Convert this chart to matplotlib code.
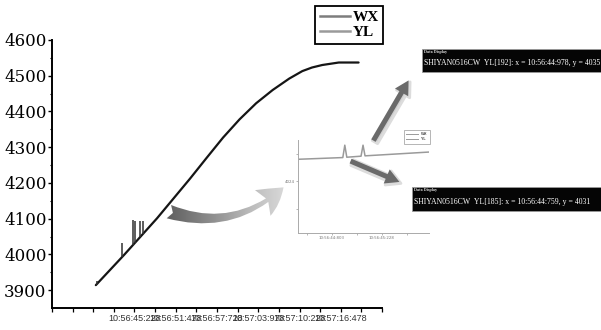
import matplotlib
matplotlib.use('Agg')
import matplotlib.pyplot as plt
import numpy as np
from matplotlib import font_manager
from matplotlib.lines import Line2D
from matplotlib.patches import FancyArrowPatch, Rectangle

W, H = 601, 330

# WX curve, seconds after 10:56:00
wx_time = [39.37, 43.62, 48.64, 53.64, 56.15, 58.65, 61.15, 63.66,
           66.16, 68.67, 70.66, 72.12, 73.67, 76.18, 79.18]
wx_value = [3914, 3998, 4101, 4212, 4270, 4327, 4378, 4423,
            4460, 4492, 4513, 4523, 4530, 4537, 4537]

# YL glitches sticking out of the curve
yl_spike_time = [39.52, 43.40, 44.93, 45.23, 46.13, 46.48]
yl_spike_base = [3914, 3993, 4025, 4031, 4049, 4056]
yl_spike_top = [3926, 4032, 4096, 4094, 4094, 4094]

x_first_tick = 32.728
x_tick_step = 3.125
x_tick_labels = ['', '', '', '', '10:56:45:228', '', '10:56:51:478', '',
                 '10:56:57:728', '', '10:57:03:978', '', '10:57:10:228', '',
                 '10:57:16:478', '', '']
y_ticks = [3900, 4000, 4100, 4200, 4300, 4400, 4500, 4600]

# zoomed view of the first two glitches
inset_time = [44.514, 44.895, 44.912, 44.929, 45.050, 45.067, 45.084, 45.628]
inset_value = [4030.4, 4030.9, 4034.5, 4031.0, 4031.3, 4034.5, 4031.4, 4032.5]
inset_x_ticks = [44.590, 44.803, 45.016, 45.228, 45.440]
inset_x_labels = ['', '10:56:44:803', '', '10:56:45:228', '']
inset_y_ticks = [4016, 4024, 4032]
inset_y_labels = ['', '4024', '']

readouts = [
    'SHIYAN0516CW  YL[192]: x = 10:56:44:978, y = 4035',
    'SHIYAN0516CW  YL[185]: x = 10:56:44:759, y = 4031',
]

names = {f.name for f in font_manager.fontManager.ttflist}
narrow = 'Liberation Sans Narrow' if 'Liberation Sans Narrow' in names else 'Liberation Sans'

fig = plt.figure(figsize=(W / 100, H / 100), dpi=100)
fig.patch.set_facecolor('white')

# main chart
ax = fig.add_axes([52 / W, 1 - 308 / H, 330 / W, 268 / H])
ax.plot(wx_time, wx_value, color='#151515', lw=1.6, solid_capstyle='round')
ax.vlines(yl_spike_time, yl_spike_base, yl_spike_top, color='#303030', lw=1.1)
ax.set_xlim(x_first_tick, x_first_tick + 16 * x_tick_step)
ax.set_ylim(3850, 4600)
ax.set_xticks([x_first_tick + i * x_tick_step for i in range(17)])
ax.set_xticklabels(x_tick_labels, fontsize=6.5, family=narrow, color='#333333')
ax.set_yticks(y_ticks)
ax.set_yticklabels([str(v) for v in y_ticks], fontsize=12, family='DejaVu Serif')
ax.set_yticks([v + 50 for v in y_ticks[:-1]], minor=True)
ax.tick_params(axis='y', which='major', length=3, width=1, pad=1)
ax.tick_params(axis='y', which='minor', length=1.5, width=0.8)
ax.tick_params(axis='x', length=3, width=0.9, pad=1)
for side in ('top', 'right'):
    ax.spines[side].set_visible(False)
for side in ('left', 'bottom'):
    ax.spines[side].set_linewidth(1.4)

handles = [Line2D([], [], color='#7d7d7d', lw=1.8, label='WX'),
           Line2D([], [], color='#9a9a9a', lw=1.8, label='YL')]
leg = ax.legend(handles=handles, loc='upper left',
                bbox_to_anchor=(315 / W, 1 - 6 / H), bbox_transform=fig.transFigure,
                prop={'family': 'Liberation Serif', 'weight': 'bold', 'size': 11},
                handlelength=2.0, handletextpad=0.15, borderpad=0.3,
                borderaxespad=0, labelspacing=0.1, fancybox=False, framealpha=1)
leg.get_frame().set_edgecolor('black')
leg.get_frame().set_linewidth(1.3)

# inset (screenshot of the zoomed view)
ins = fig.add_axes([298 / W, 1 - 233 / H, 131 / W, 93 / H])
ins.plot(inset_time, inset_value, color='#9a9a9a', lw=1.1)
ins.set_xlim(44.514, 45.628)
ins.set_ylim(4009, 4036)
ins.set_xticks(inset_x_ticks)
ins.set_xticklabels(inset_x_labels, fontsize=2.8, color='#777777')
ins.set_yticks(inset_y_ticks)
ins.set_yticklabels(inset_y_labels, fontsize=2.8, color='#777777')
ins.tick_params(length=1.5, width=0.5, color='#999999', pad=1)
for side in ('top', 'right'):
    ins.spines[side].set_visible(False)
for side in ('left', 'bottom'):
    ins.spines[side].set_color('#aaaaaa')
    ins.spines[side].set_linewidth(0.7)
ins.patch.set_alpha(0)
ileg = ins.legend(handles=[Line2D([], [], color='#9a9a9a', lw=0.7, label='WX'),
                           Line2D([], [], color='#9a9a9a', lw=0.7, label='YL')],
                  loc='upper left', bbox_to_anchor=(402 / W, 1 - 128 / H),
                  bbox_transform=fig.transFigure, fontsize=2.8, handlelength=3,
                  borderpad=0.6, labelspacing=0.3, fancybox=False, framealpha=1)
ileg.get_frame().set_edgecolor('#aaaaaa')
ileg.get_frame().set_linewidth(0.6)

# overlay in pixel coordinates for arrows and the data readouts
ov = fig.add_axes([0, 0, 1, 1])
ov.set_xlim(0, W)
ov.set_ylim(H, 0)
ov.axis('off')
ov.patch.set_alpha(0)

big = FancyArrowPatch((167, 211), (285, 186), connectionstyle='arc3,rad=0.3',
                      arrowstyle='fancy,head_length=26,head_width=30,tail_width=14',
                      fc='none', ec='none')
ov.add_patch(big)
grad = np.linspace(0, 1, 256).reshape(1, -1)
img = ov.imshow(grad, cmap='Greys_r', vmin=-0.55, vmax=1.45, aspect='auto',
                extent=(160, 292, 240, 165), interpolation='bilinear')
img.set_clip_path(big)


def arrow(p0, p1):
    shadow = FancyArrowPatch((p0[0] + 1.5, p0[1] + 1.5), (p1[0] + 1.5, p1[1] + 1.5),
                             arrowstyle='simple,head_length=10,head_width=11,tail_width=4.5',
                             fc='#cfcfcf', ec='#dcdcdc', lw=2)
    ov.add_patch(shadow)
    ov.add_patch(FancyArrowPatch(p0, p1,
                                 arrowstyle='simple,head_length=10,head_width=11,tail_width=3.6',
                                 fc='#6a6a6a', ec='none'))


arrow((372, 143), (410, 78))
arrow((348, 160), (402, 183))


def readout(x, y, w, h, text):
    ov.add_patch(Rectangle((x, y), w, h, fc='#050505', ec='#9a9a9a', lw=0.6))
    ov.text(x + 2, y + 3.2, 'Data Display', color='#dddddd', fontsize=3,
            family='Liberation Serif', weight='bold', va='center')
    ov.text(x + 2, y + h * 0.62, text, color='white', fontsize=5.6,
            family='Liberation Serif', va='center')


readout(422, 49, 185, 23, readouts[0])
readout(412, 187, 195, 24, readouts[1])

fig.savefig('out.png', dpi=100)
